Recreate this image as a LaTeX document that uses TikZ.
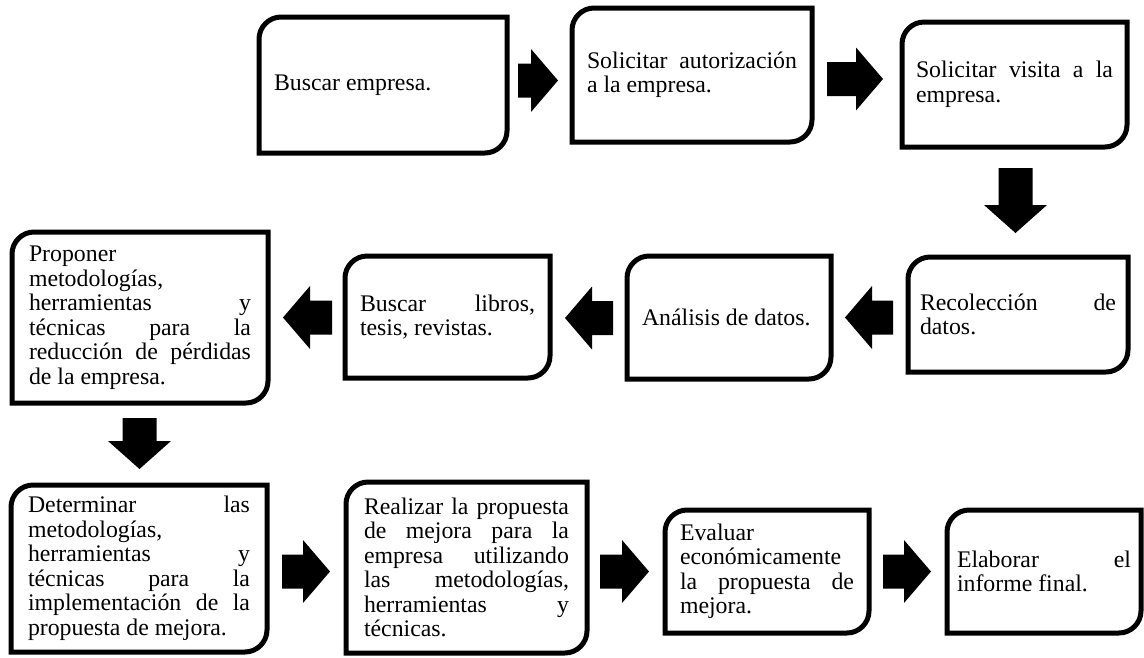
\documentclass[tikz,border=0pt]{standalone}
\usepackage{fontspec}
\setmainfont{Liberation Serif}

% frame with rounded top-left and bottom-right corners, drawn around a named node
\newcommand\roundframe[1]{%
  \draw[frameline] (#1.south west) -- ([yshift=-22pt]#1.north west)
    .. controls ([yshift=-10pt]#1.north west) and ([xshift=10pt]#1.north west) .. ([xshift=22pt]#1.north west)
    -- (#1.north east) -- ([yshift=22pt]#1.south east)
    .. controls ([yshift=10pt]#1.south east) and ([xshift=-10pt]#1.south east) .. ([xshift=-22pt]#1.south east)
    -- cycle;}

% block arrows: tail, tip, position across
\newcommand\arrowright[3]{%
  \fill[blockarrow] ({#1},{#3-17}) -- ({#2-27},{#3-17}) -- ({#2-27},{#3-31.5}) -- ({#2},{#3})
    -- ({#2-27},{#3+31.5}) -- ({#2-27},{#3+17}) -- ({#1},{#3+17}) -- cycle;}
\newcommand\arrowleft[3]{%
  \fill[blockarrow] ({#1},{#3-17}) -- ({#2+27},{#3-17}) -- ({#2+27},{#3-31.5}) -- ({#2},{#3})
    -- ({#2+27},{#3+31.5}) -- ({#2+27},{#3+17}) -- ({#1},{#3+17}) -- cycle;}
\newcommand\arrowdown[3]{%
  \fill[blockarrow] ({#1-17},{#2}) -- ({#1-17},{#3-28}) -- ({#1-31.5},{#3-28}) -- ({#1},{#3})
    -- ({#1+31.5},{#3-28}) -- ({#1+17},{#3-28}) -- ({#1+17},{#2}) -- cycle;}

\begin{document}
\begin{tikzpicture}[x=1pt,y=-1pt,
  boxtext/.style={font=\fontsize{23.8}{24.5}\selectfont, align=justify,
    inner xsep=15pt, inner ysep=0pt, outer sep=0pt, anchor=center},
  frameline/.style={line width=5pt, draw=black, line join=miter},
  blockarrow/.style={fill=black}]
\useasboundingbox (0,0) rectangle (1144,657);

% first row
\node[boxtext, minimum width=248pt, text width=218pt, minimum height=136pt] (b1) at (383,85)
  {Buscar empresa.};
\node[boxtext, minimum width=240pt, text width=210pt, minimum height=134pt] (b2) at (692,75)
  {Solicitar autorización\linebreak a la empresa.};
\node[boxtext, minimum width=225pt, text width=197pt, inner xsep=14pt, minimum height=125pt] (b3) at (1014.5,84.5)
  {Solicitar visita a la\linebreak empresa.};

% second row
\node[boxtext, minimum width=220pt, text width=196pt, inner xsep=12pt, minimum height=115pt] (b4) at (1018,314.5)
  {Recolección de\linebreak datos.};
\node[boxtext, minimum width=204pt, text width=174pt, minimum height=123pt] (b5) at (729,317.5)
  {Análisis de datos.};
\node[boxtext, minimum width=205pt, text width=175pt, minimum height=122pt] (b6) at (447.5,317)
  {Buscar libros,\linebreak tesis, revistas.};
\node[boxtext, minimum width=256pt, text width=222pt, inner xsep=17pt, minimum height=171pt] (b7) at (140,317.5)
  {Proponer\linebreak metodologías,\linebreak herramientas y\linebreak técnicas para la\linebreak reducción de pérdidas\linebreak de la empresa.};

% third row
\node[boxtext, minimum width=256pt, text width=222pt, inner xsep=17pt, minimum height=167pt] (b8) at (139,568.5)
  {Determinar las\linebreak metodologías,\linebreak herramientas y\linebreak técnicas para la\linebreak implementación de la\linebreak propuesta de mejora.};
\node[boxtext, minimum width=241pt, text width=205pt, inner xsep=18pt, minimum height=171pt] (b9) at (466.5,567.5)
  {Realizar la propuesta\linebreak de mejora para la\linebreak empresa utilizando\linebreak las metodologías,\linebreak herramientas y\linebreak técnicas.};
\node[boxtext, minimum width=204pt, text width=174pt, minimum height=123pt] (b10) at (767,571.5)
  {Evaluar\linebreak económicamente\linebreak la propuesta de\linebreak mejora.};
\node[boxtext, minimum width=194pt, text width=174pt, inner xsep=10pt, minimum height=123pt] (b11) at (1044,571.5)
  {Elaborar el\linebreak informe final.};

\foreach \b in {b1,b2,b3,b4,b5,b6,b7,b8,b9,b10,b11} {\roundframe{\b}}

% block arrows between the steps
\arrowright{518}{558}{80.5}
\arrowright{827}{883}{79}
\arrowdown{1015.5}{168}{233}
\arrowleft{893}{845}{317.5}
\arrowleft{613}{565}{318}
\arrowleft{332}{283}{317.5}
\arrowdown{139.5}{418}{469}
\arrowright{282}{330}{571.5}
\arrowright{600}{649}{571.5}
\arrowright{883}{931}{571.5}
\end{tikzpicture}
\end{document}
